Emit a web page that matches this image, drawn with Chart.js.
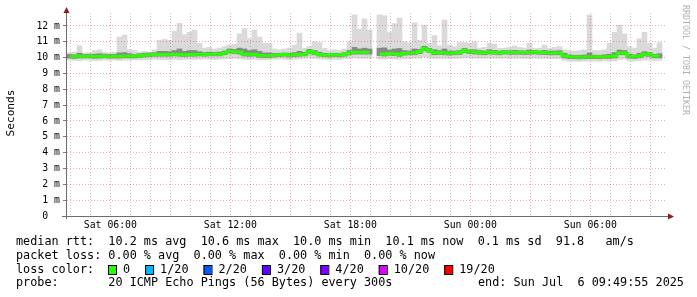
<!DOCTYPE html>
<html>
<head>
<meta charset="utf-8">
<script src="https://cdn.jsdelivr.net/npm/chart.js@4.4.0/dist/chart.umd.min.js"></script>
<style>
  html, body { margin: 0; padding: 0; background: #fff; }
  canvas { display: block; }
</style>
</head>
<body>
<canvas id="chart" width="697" height="297"></canvas>
<script>
// time axis, hours since Sat 00:00; one slot = 15 min
const START_H = 3.832;   // Sat 03:49:55
const END_H = 33.832;    // Sun 09:49:55
const SLOT_H = 0.25;

const X_TICK_HOURS = [6, 12, 18, 24, 30];
const X_TICK_LABELS = ['Sat 06:00', 'Sat 12:00', 'Sat 18:00', 'Sun 00:00', 'Sun 06:00'];
const Y_MAX = 12.82;

// smoke envelope (ms), median rtt and inner band, per 15 min slot
const rttMax = [
  10.30, 10.35, 10.75, 10.30, 10.30, 10.45, 10.50, 10.35, 10.30, 10.35,
  11.30, 11.43, 10.50, 10.45, 10.35, 10.40, 10.35, 10.50, 11.10, 11.15,
  11.10, 11.65, 12.17, 11.45, 11.60, 11.75, 10.90, 10.60, 10.65, 10.55,
  10.60, 10.70, 10.80, 10.85, 11.50, 11.85, 11.20, 11.75, 11.30, 10.90,
  10.90, 10.55, 10.50, 10.55, 10.60, 10.80, 11.55, 10.60, 10.70, 11.00,
  10.95, 10.60, 10.45, 10.50, 10.45, 10.55, 11.00, 12.70, 11.80, 12.45,
  11.75, null,  12.70, 12.65, 11.60, 12.15, 12.50, 11.00, 10.95, 12.20,
  11.10, 12.05, 10.90, 11.40, 10.75, 12.38, 10.80, 10.70, 10.95, 10.95,
  10.90, 11.00, 10.60, 10.65, 10.90, 10.85, 10.60, 10.60, 10.65, 10.75,
  10.65, 10.60, 10.90, 10.60, 10.60, 10.80, 10.60, 10.65, 10.70, 10.50,
  10.45, 10.40, 10.45, 10.50, 12.70, 10.45, 10.45, 10.50, 10.90, 11.60,
  12.05, 11.50, 10.70, 10.60, 11.20, 11.60, 10.90, 10.60, 10.95, null
];
const rttUpper = [
  10.20, 10.18, 10.28, 10.20, 10.22, 10.22, 10.25, 10.22, 10.20, 10.20,
  10.30, 10.32, 10.25, 10.20, 10.25, 10.28, 10.30, 10.32, 10.40, 10.40,
  10.38, 10.45, 10.55, 10.40, 10.45, 10.45, 10.38, 10.32, 10.35, 10.33,
  10.35, 10.42, 10.55, 10.52, 10.60, 10.55, 10.45, 10.50, 10.40, 10.30,
  10.30, 10.27, 10.28, 10.30, 10.28, 10.32, 10.40, 10.33, 10.52, 10.45,
  10.35, 10.28, 10.25, 10.28, 10.26, 10.32, 10.45, 10.65, 10.55, 10.60,
  10.55, null,  10.60, 10.62, 10.48, 10.55, 10.58, 10.45, 10.42, 10.55,
  10.52, 10.72, 10.58, 10.50, 10.45, 10.55, 10.42, 10.42, 10.45, 10.58,
  10.50, 10.50, 10.45, 10.42, 10.50, 10.46, 10.42, 10.45, 10.44, 10.46,
  10.44, 10.43, 10.48, 10.45, 10.43, 10.46, 10.42, 10.42, 10.44, 10.28,
  10.18, 10.15, 10.15, 10.17, 10.30, 10.16, 10.15, 10.18, 10.22, 10.32,
  10.48, 10.45, 10.22, 10.18, 10.28, 10.38, 10.32, 10.20, 10.25, null
];
const rttMedian = [
  10.08, 10.05, 10.10, 10.08, 10.10, 10.06, 10.08, 10.10, 10.08, 10.07,
  10.08, 10.10, 10.10, 10.08, 10.12, 10.15, 10.18, 10.20, 10.20, 10.20,
  10.20, 10.22, 10.20, 10.18, 10.20, 10.20, 10.22, 10.20, 10.22, 10.22,
  10.22, 10.30, 10.40, 10.38, 10.35, 10.22, 10.20, 10.22, 10.13, 10.12,
  10.12, 10.15, 10.18, 10.20, 10.15, 10.18, 10.20, 10.22, 10.40, 10.30,
  10.20, 10.17, 10.15, 10.18, 10.16, 10.20, 10.30, 10.34, 10.34, 10.34,
  10.34, null,  10.25, 10.22, 10.28, 10.25, 10.20, 10.28, 10.30, 10.30,
  10.38, 10.58, 10.45, 10.30, 10.32, 10.30, 10.28, 10.30, 10.32, 10.45,
  10.38, 10.35, 10.33, 10.30, 10.35, 10.33, 10.30, 10.35, 10.33, 10.33,
  10.33, 10.32, 10.33, 10.35, 10.33, 10.32, 10.30, 10.30, 10.30, 10.10,
  10.05, 10.04, 10.03, 10.04, 10.05, 10.05, 10.04, 10.06, 10.06, 10.10,
  10.30, 10.30, 10.08, 10.06, 10.10, 10.22, 10.20, 10.10, 10.10, null
];
const rttLower = [
  9.98, 9.95, 9.98, 9.98, 9.99, 9.96, 9.97, 9.99, 9.97, 9.97,
  9.97, 9.99, 9.99, 9.98, 10.01, 10.04, 10.07, 10.09, 10.09, 10.09,
  10.09, 10.11, 10.09, 10.07, 10.09, 10.09, 10.11, 10.09, 10.11, 10.11,
  10.11, 10.18, 10.28, 10.26, 10.22, 10.10, 10.08, 10.10, 10.02, 10.00,
  10.01, 10.04, 10.07, 10.09, 10.04, 10.07, 10.09, 10.11, 10.27, 10.18,
  10.09, 10.06, 10.04, 10.07, 10.05, 10.09, 10.18, 10.22, 10.22, 10.22,
  10.22, null, 10.13, 10.10, 10.16, 10.13, 10.08, 10.16, 10.18, 10.18,
  10.26, 10.45, 10.33, 10.18, 10.20, 10.18, 10.16, 10.18, 10.20, 10.33,
  10.26, 10.23, 10.21, 10.18, 10.23, 10.21, 10.18, 10.23, 10.21, 10.21,
  10.21, 10.20, 10.21, 10.23, 10.21, 10.20, 10.18, 10.18, 10.18, 9.98,
  9.94, 9.93, 9.92, 9.93, 9.94, 9.94, 9.93, 9.95, 9.95, 9.98,
  10.18, 10.18, 9.97, 9.95, 9.99, 10.10, 10.08, 9.99, 9.99, null
];
const rttMin = [
  9.85, 9.82, 9.80, 9.85, 9.83, 9.80, 9.82, 9.85, 9.83, 9.84,
  9.82, 9.85, 9.84, 9.86, 9.85, 9.86, 9.88, 9.90, 9.88, 9.87,
  9.88, 9.90, 9.86, 9.88, 9.90, 9.88, 9.90, 9.92, 9.90, 9.88,
  9.90, 9.92, 9.95, 9.96, 9.92, 9.90, 9.88, 9.90, 9.85, 9.86,
  9.88, 9.90, 9.92, 9.90, 9.88, 9.90, 9.92, 9.95, 9.98, 9.95,
  9.92, 9.90, 9.88, 9.90, 9.88, 9.92, 9.95, 9.98, 9.96, 9.95,
  9.95, null, 9.92, 9.90, 9.94, 9.92, 9.90, 9.94, 9.95, 9.96,
  9.98, 10.05, 9.98, 9.95, 9.96, 9.95, 9.94, 9.95, 9.96, 10.00,
  9.98, 9.97, 9.96, 9.95, 9.97, 9.96, 9.95, 9.97, 9.96, 9.96,
  9.96, 9.95, 9.96, 9.97, 9.96, 9.95, 9.95, 9.94, 9.95, 9.82,
  9.78, 9.77, 9.76, 9.78, 9.79, 9.78, 9.77, 9.79, 9.78, 9.80,
  9.88, 9.90, 9.80, 9.78, 9.82, 9.85, 9.85, 9.82, 9.83, null
];

const LEGEND = [
  'median rtt:  10.2 ms avg  10.6 ms max  10.0 ms min  10.1 ms now  0.1 ms sd  91.8   am/s',
  'packet loss: 0.00 % avg  0.00 % max  0.00 % min  0.00 % now'
];
const LOSS_LABELS = ['0', '1/20', '2/20', '3/20', '4/20', '10/20', '19/20'];
const LOSS_COLORS = ['#26ff00', '#00b8ff', '#0059ff', '#5e00ff', '#7e00ff', '#dd00ff', '#ff0000'];
const PROBE = 'probe:       20 ICMP Echo Pings (56 Bytes) every 300s';
const END_TEXT = 'end: Sun Jul  6 09:49:55 2025';

const MONO = '"DejaVu Sans Mono", monospace';
const GRID_MINOR = 'rgba(140,140,140,0.5)';
const GRID_MAJOR = 'rgba(210,70,70,0.45)';

const slotX = i => START_H + (i + 0.5) * SLOT_H;
const bandData = (lo, hi) => hi.map((h, i) => h == null ? null : { x: slotX(i), y: [lo[i], h] }).filter(d => d);

const overlay = {
    id: 'overlay',
    afterDraw(chart) {
        const ctx = chart.ctx;
        const { left, right, top, bottom } = chart.chartArea;
        ctx.save();

        // axes + arrows
        ctx.strokeStyle = '#6e6e6e';
        ctx.lineWidth = 1;
        ctx.beginPath();
        ctx.moveTo(62, bottom + 0.5); ctx.lineTo(right + 2, bottom + 0.5);
        ctx.moveTo(left - 0.5, bottom + 3); ctx.lineTo(left - 0.5, top - 1);
        ctx.stroke();
        ctx.fillStyle = '#8e1c1c';
        ctx.beginPath();
        ctx.moveTo(right + 1, bottom - 2.5); ctx.lineTo(right + 7, bottom + 0.5); ctx.lineTo(right + 1, bottom + 3.5);
        ctx.fill();
        ctx.beginPath();
        ctx.moveTo(left - 3.5, top); ctx.lineTo(left - 0.5, top - 6); ctx.lineTo(left + 2.5, top);
        ctx.fill();

        // unit label
        ctx.fillStyle = '#000';
        ctx.font = '11.1px ' + MONO;
        ctx.textAlign = 'center';
        ctx.textBaseline = 'middle';
        ctx.save();
        ctx.translate(11, 113);
        ctx.rotate(-Math.PI / 2);
        ctx.fillText('Seconds', 0, 0);
        ctx.restore();

        // watermark
        ctx.save();
        ctx.fillStyle = '#b0b0b0';
        ctx.font = '8.3px ' + MONO;
        ctx.textAlign = 'left';
        ctx.translate(685, 5);
        ctx.rotate(Math.PI / 2);
        ctx.fillText('RRDTOOL / TOBI OETIKER', 0, 0);
        ctx.restore();

        // legend
        ctx.font = '11.8px ' + MONO;
        ctx.textAlign = 'left';
        ctx.fillStyle = '#000';
        ctx.fillText(LEGEND[0], 16, 241.5);
        ctx.fillText(LEGEND[1], 16, 255.5);
        ctx.fillText('loss color:', 16, 269.5);
        let x = 108;
        LOSS_LABELS.forEach((lab, i) => {
            ctx.fillStyle = LOSS_COLORS[i];
            ctx.fillRect(x, 265, 8, 9);
            ctx.strokeStyle = '#000';
            ctx.strokeRect(x + 0.5, 265.5, 8, 9);
            ctx.fillStyle = '#000';
            ctx.fillText(lab, x + 15, 269.5);
            x = x + 15 + ctx.measureText(lab).width + 15;
        });
        ctx.fillText(PROBE, 16, 283);
        ctx.fillText(END_TEXT, 478, 283);
        ctx.restore();
    }
};

new Chart(document.getElementById('chart'), {
    data: {
        datasets: [
            {
                type: 'line',
                data: rttMedian.map((v, i) => ({ x: slotX(i), y: v })),
                borderColor: '#26ff00',
                borderWidth: 3,
                pointRadius: 0,
                stepped: 'middle',
                spanGaps: false,
                order: 0
            },
            {
                type: 'bar',
                data: bandData(rttLower, rttUpper),
                backgroundColor: '#888888',
                barPercentage: 1,
                categoryPercentage: 1,
                grouped: false,
                order: 1
            },
            {
                type: 'bar',
                data: bandData(rttMin, rttMax),
                backgroundColor: '#dadada',
                barPercentage: 1,
                categoryPercentage: 1,
                grouped: false,
                order: 2
            }
        ]
    },
    options: {
        responsive: false,
        animation: false,
        devicePixelRatio: 1,
        layout: { padding: { left: 0, right: 30, top: 13, bottom: 0 } },
        plugins: { legend: { display: false }, tooltip: { enabled: false } },
        scales: {
            x: {
                type: 'linear',
                offset: false,
                min: START_H,
                max: END_H,
                afterBuildTicks: s => {
                    const t = [];
                    for (let h = 4; h <= 33; h++) t.push({ value: h });
                    s.ticks = t;
                },
                afterFit: s => { s.height = 81; },
                ticks: {
                    autoSkip: false,
                    maxRotation: 0,
                    padding: 4,
                    color: '#000',
                    font: { family: MONO, size: 9.8 },
                    callback: v => {
                        const k = X_TICK_HOURS.indexOf(v);
                        return k >= 0 ? X_TICK_LABELS[k] : '';
                    }
                },
                grid: {
                    z: 1,
                    offset: false,
                    drawTicks: false,
                    lineWidth: 1,
                    color: c => (c.tick && c.tick.value % 3 === 0) ? GRID_MAJOR : GRID_MINOR
                },
                border: { display: false, dash: [1, 2] }
            },
            y: {
                type: 'linear',
                min: 0,
                max: Y_MAX,
                afterBuildTicks: s => {
                    const t = [];
                    for (let k = 0; k <= 25; k++) t.push({ value: k / 2 });
                    s.ticks = t;
                },
                afterFit: s => { s.width = 67; },
                ticks: {
                    padding: 3,
                    color: '#000',
                    font: { family: MONO, size: 9.8 },
                    callback: v => Number.isInteger(v) ? (v === 0 ? '0  ' : v + ' m') : ''
                },
                grid: {
                    z: 1,
                    lineWidth: 1,
                    tickLength: 4,
                    tickBorderDash: [],
                    tickColor: c => (c.tick && Number.isInteger(c.tick.value)) ? '#777' : 'rgba(0,0,0,0)',
                    color: c => (c.tick && Number.isInteger(c.tick.value)) ? GRID_MAJOR : GRID_MINOR
                },
                border: { display: false, dash: [1, 2] }
            }
        }
    },
    plugins: [overlay]
});
</script>
</body>
</html>
